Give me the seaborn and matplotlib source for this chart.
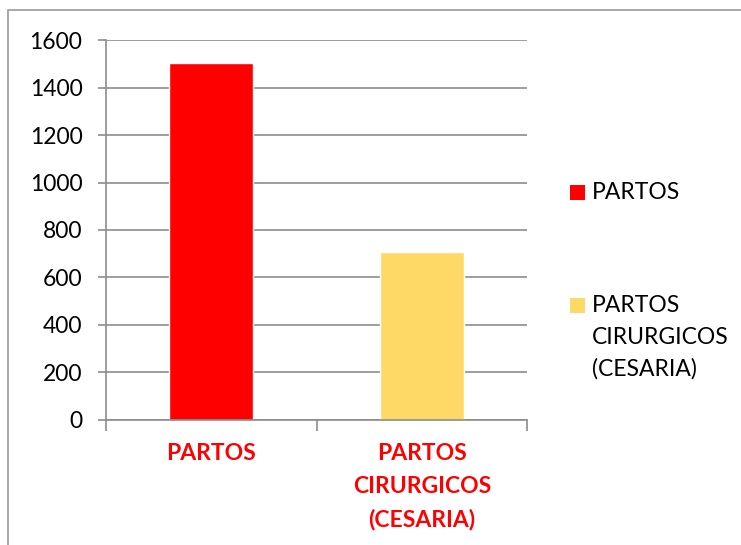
import matplotlib
matplotlib.use("Agg")
import matplotlib.pyplot as plt
import matplotlib.patches as mpatches
from matplotlib.ticker import FixedLocator
import seaborn as sns
import pandas as pd

categories = ["PARTOS", "PARTOS\nCIRURGICOS\n(CESARIA)"]
values = [1504, 705]
colors = ["#FF0000", "#FFD966"]
y_ticks = [0, 200, 400, 600, 800, 1000, 1200, 1400, 1600]

sns.set_style("white")
plt.rcParams["font.family"] = ["Lato", "DejaVu Sans"]

W, H = 741, 545
FS = 16.5
fig = plt.figure(figsize=(W / 100, H / 100), dpi=100)

# outer chart border (light gray), clipped by figure edges
fig.patches.append(mpatches.Rectangle((8 / W, -0.1), 1.2, (H - 10) / H + 0.1,
                                      transform=fig.transFigure, fill=False,
                                      edgecolor="#9a9a9a", linewidth=1.2))

left, right = 106, 527
top, bottom = 40.3, 419.5
ax = fig.add_axes([left / W, (H - bottom) / H, (right - left) / W, (bottom - top) / H])

df = pd.DataFrame({"cat": categories, "val": values})
sns.barplot(data=df, x="cat", y="val", hue="cat", palette=colors, width=0.4,
            dodge=False, legend=False, ax=ax, saturation=1)

ax.set_xlim(-0.5, 1.5)
ax.set_ylim(0, 1600)
ax.yaxis.set_major_locator(FixedLocator(y_ticks))
ax.set_yticklabels([str(t) for t in y_ticks], fontsize=FS, color="black")
ax.grid(axis="y", color="#8c8c8c", linewidth=1.2)
ax.set_axisbelow(True)
for s in ["top", "right"]:
    ax.spines[s].set_visible(False)
for s in ["left", "bottom"]:
    ax.spines[s].set_color("#8c8c8c")
    ax.spines[s].set_linewidth(1.2)

ax.tick_params(axis="y", which="major", direction="out", length=6, width=1.2,
               color="#8c8c8c", pad=11, left=True)
ax.tick_params(axis="x", which="major", length=0, pad=17)
ax.xaxis.set_minor_locator(FixedLocator([-0.5, 0.5, 1.5]))
ax.tick_params(axis="x", which="minor", direction="out", length=8, width=1.2,
               color="#8c8c8c", bottom=True)
ax.set_xticks(range(len(categories)))
ax.set_xticklabels(categories, fontsize=FS, fontweight="bold", color="#FF0000",
                   linespacing=1.68, va="top")
ax.set_xlabel("")
ax.set_ylabel("")

# legend (drawn manually so the swatch aligns with the first text line)
sq = 15
legend_tops = [185, 298]
for cat, col, ty in zip(categories, colors, legend_tops):
    fig.patches.append(mpatches.Rectangle((570 / W, 1 - (ty + sq) / H), sq / W, sq / H,
                                          transform=fig.transFigure,
                                          facecolor=col, edgecolor="none"))
    fig.text(592 / W, 1 - (ty - 3) / H, cat, fontsize=FS, color="black",
             va="top", ha="left", linespacing=1.62)

fig.savefig("out.png", dpi=100)
